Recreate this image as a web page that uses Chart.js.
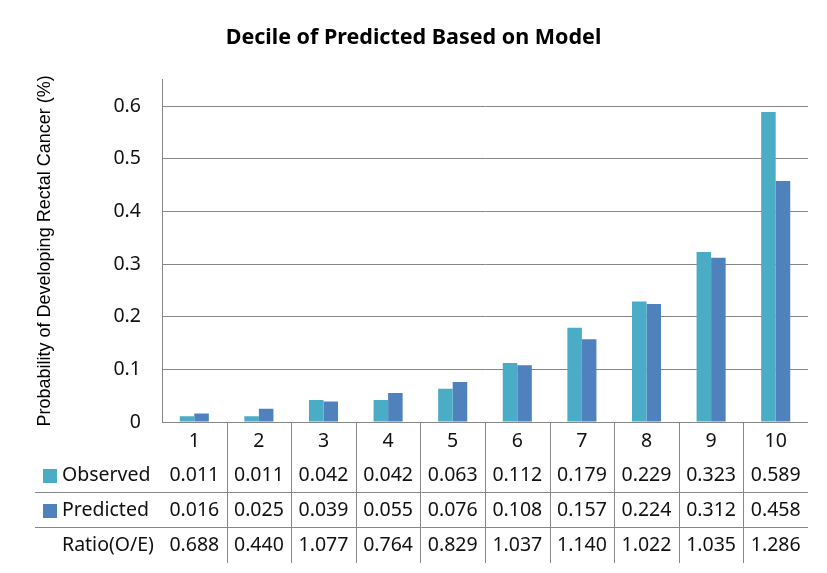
<!DOCTYPE html>
<html>
<head>
<meta charset="utf-8">
<script src="https://cdn.jsdelivr.net/npm/chart.js@4/dist/chart.umd.min.js"></script>
<style>
  html, body { margin: 0; padding: 0; background: #fff; }
  #wrap { width: 827px; height: 573px; }
</style>
</head>
<body>
<div id="wrap"><canvas id="decile" width="827" height="573"></canvas></div>
<script>
const deciles = ['1', '2', '3', '4', '5', '6', '7', '8', '9', '10'];
const observed = [0.011, 0.011, 0.042, 0.042, 0.063, 0.112, 0.179, 0.229, 0.323, 0.589];
const predicted = [0.016, 0.025, 0.039, 0.055, 0.076, 0.108, 0.157, 0.224, 0.312, 0.458];
const ratio = ['0.688', '0.440', '1.077', '0.764', '0.829', '1.037', '1.140', '1.022', '1.035', '1.286'];
const yTicks = [0, 0.1, 0.2, 0.3, 0.4, 0.5, 0.6];

const TEAL = '#4BACC6';
const BLUE = '#4F81BD';
const LINE = '#878787';
const tableFont = '19.5px "Noto Sans", sans-serif';

// data table under the plot, lined up with the x scale
const dataTable = {
  id: 'dataTable',
  afterDraw(chart) {
    const ctx = chart.ctx;
    const x = chart.scales.x;
    const area = chart.chartArea;
    const step = x.getPixelForValue(1) - x.getPixelForValue(0);
    ctx.save();
    ctx.strokeStyle = LINE;
    ctx.lineWidth = 1;
    // vertical separators
    for (let i = 1; i < deciles.length; i++) {
      const bx = Math.round(x.getPixelForValue(i) - step / 2) + 0.5;
      ctx.beginPath();
      ctx.moveTo(bx, area.bottom);
      ctx.lineTo(bx, 563);
      ctx.stroke();
    }
    // horizontal separators
    [492, 527].forEach(y => {
      ctx.beginPath();
      ctx.moveTo(35, y + 0.5);
      ctx.lineTo(area.right, y + 0.5);
      ctx.stroke();
    });

    ctx.fillStyle = '#111';
    ctx.font = tableFont;
    ctx.textBaseline = 'middle';
    ctx.textAlign = 'center';
    const rows = [
      { y: 441, vals: deciles },
      { y: 475, vals: observed.map(v => v.toFixed(3)) },
      { y: 510, vals: predicted.map(v => v.toFixed(3)) },
      { y: 545, vals: ratio }
    ];
    rows.forEach(r => {
      r.vals.forEach((v, i) => ctx.fillText(v, x.getPixelForValue(i), r.y));
    });

    // row headers
    ctx.textAlign = 'left';
    ctx.fillStyle = TEAL;
    ctx.fillRect(43, 469, 14, 14);
    ctx.fillStyle = BLUE;
    ctx.fillRect(43, 504, 14, 14);
    ctx.fillStyle = '#111';
    ctx.fillText('Observed', 62, 475);
    ctx.fillText('Predicted', 62, 510);
    ctx.fillText('Ratio(O/E)', 62, 545);
    ctx.restore();
  }
};

new Chart(document.getElementById('decile'), {
  type: 'bar',
  data: {
    labels: deciles,
    datasets: [{
      label: 'Observed',
      data: observed,
      backgroundColor: TEAL,
      barPercentage: 1,
      categoryPercentage: 0.45
    }, {
      label: 'Predicted',
      data: predicted,
      backgroundColor: BLUE,
      barPercentage: 1,
      categoryPercentage: 0.45
    }]
  },
  options: {
    responsive: false,
    animation: false,
    layout: { padding: 0 },
    plugins: {
      legend: { display: false },
      tooltip: { enabled: false },
      title: {
        display: true,
        text: 'Decile of Predicted Based on Model',
        color: '#000',
        font: { family: '"Noto Sans", sans-serif', size: 21.5, weight: 'bold', lineHeight: 1.2 },
        padding: { top: 25, bottom: 29 }
      }
    },
    scales: {
      x: {
        ticks: { display: false },
        grid: { display: false },
        border: { display: false },
        afterFit(scale) { scale.height = 151; }
      },
      y: {
        min: 0,
        max: 0.65,
        afterBuildTicks(scale) {
          scale.ticks = yTicks.map(v => ({ value: v }));
        },
        ticks: {
          color: '#111',
          padding: 21,
          font: { family: '"Noto Sans", sans-serif', size: 19.5 },
          callback: v => (v === 0 ? '0' : v.toFixed(1))
        },
        grid: { color: LINE, drawTicks: false },
        border: { display: true, color: LINE },
        title: {
          display: true,
          text: 'Probability of Developing Rectal Cancer (%)',
          color: '#000',
          font: { family: '"Liberation Sans", Arial, sans-serif', size: 18 },
          padding: { top: 34, bottom: 0 }
        },
        afterFit(scale) { scale.width = 162; }
      },
      // empty right margin so the title stays centred on the whole canvas
      yRight: {
        position: 'right',
        min: 0,
        max: 0.65,
        ticks: { display: false },
        grid: { display: false, drawOnChartArea: false },
        border: { display: false },
        afterFit(scale) { scale.width = 19; }
      }
    }
  },
  plugins: [dataTable]
});
</script>
</body>
</html>
